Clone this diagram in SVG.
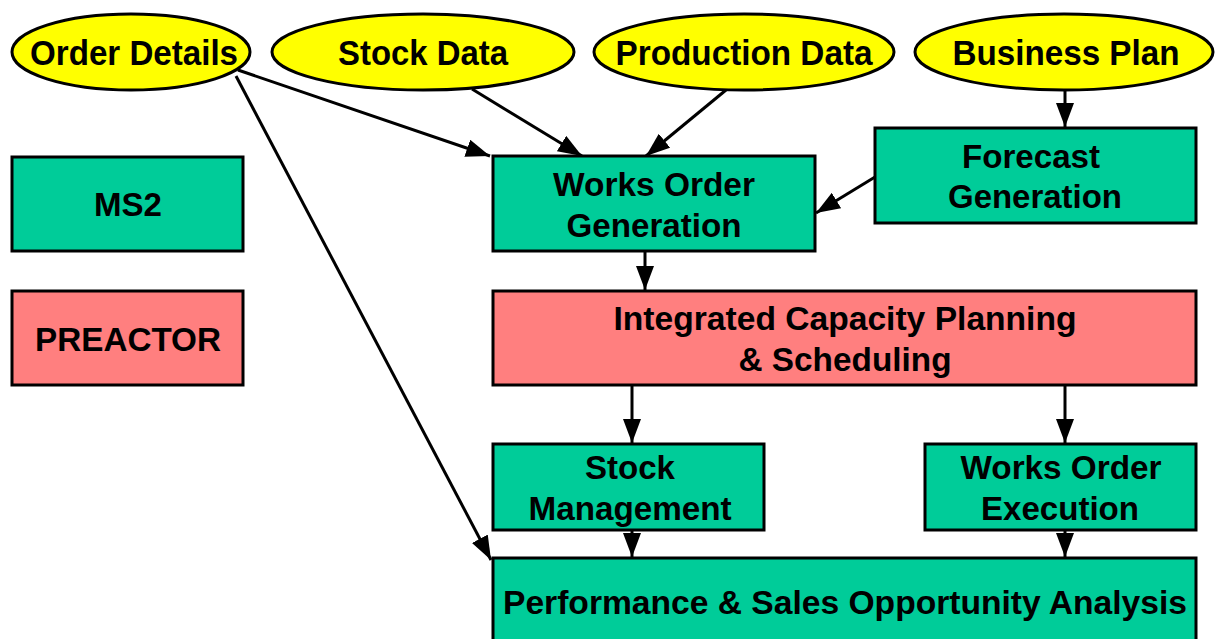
<svg xmlns="http://www.w3.org/2000/svg" width="1217" height="639" viewBox="0 0 1217 639">
<defs>
<marker id="ah" markerWidth="8" markerHeight="6" refX="8" refY="3" orient="auto" markerUnits="strokeWidth">
<path d="M0,0 L8,3 L0,6 Z" fill="#000"/>
</marker>
<style>
.ell{fill:#FFFF00;stroke:#000;stroke-width:3}
.g{fill:#00CC99;stroke:#000;stroke-width:3}
.p{fill:#FF7F7F;stroke:#000;stroke-width:3}
text{font-family:"Liberation Sans",Arial,sans-serif;font-weight:bold;fill:#000;text-anchor:middle}
.t{font-size:33px}
.te{font-size:35px}
.c{fill:none;stroke:#000;stroke-width:3;marker-end:url(#ah)}
</style>
</defs>
<rect width="1217" height="639" fill="#fff"/>
<g id="connectors">
<line class="c" x1="238" y1="70" x2="490" y2="156"/>
<line class="c" x1="236" y1="76" x2="491" y2="560"/>
<line class="c" x1="472" y1="89" x2="582" y2="156"/>
<line class="c" x1="726" y1="90" x2="646" y2="156"/>
<line class="c" x1="1065" y1="91" x2="1065" y2="127"/>
<line class="c" x1="875" y1="177" x2="816" y2="213"/>
<line class="c" x1="645" y1="251" x2="645" y2="290"/>
<line class="c" x1="632" y1="385" x2="632" y2="443"/>
<line class="c" x1="1065" y1="385" x2="1065" y2="443"/>
<line class="c" x1="632" y1="530" x2="632" y2="557"/>
<line class="c" x1="1065" y1="530" x2="1065" y2="557"/>
</g>
<g id="order-details">
<ellipse class="ell" cx="131" cy="52" rx="119" ry="38"/>
<text class="te" x="134" y="65" textLength="208" lengthAdjust="spacingAndGlyphs">Order Details</text>
</g>
<g id="stock-data">
<ellipse class="ell" cx="423" cy="52" rx="151" ry="38"/>
<text class="te" x="423" y="65" textLength="170" lengthAdjust="spacingAndGlyphs">Stock Data</text>
</g>
<g id="production-data">
<ellipse class="ell" cx="744" cy="52" rx="150" ry="38"/>
<text class="te" x="744" y="65" textLength="257" lengthAdjust="spacingAndGlyphs">Production Data</text>
</g>
<g id="business-plan">
<ellipse class="ell" cx="1064" cy="52" rx="149" ry="38"/>
<text class="te" x="1066" y="65" textLength="227" lengthAdjust="spacingAndGlyphs">Business Plan</text>
</g>
<g id="ms2">
<rect class="g" x="12" y="157" width="231" height="94"/>
<text class="t" x="128" y="216" textLength="68" lengthAdjust="spacingAndGlyphs">MS2</text>
</g>
<g id="preactor">
<rect class="p" x="12" y="291" width="231" height="94"/>
<text class="t" x="128" y="351" textLength="186" lengthAdjust="spacingAndGlyphs">PREACTOR</text>
</g>
<g id="works-order-generation">
<rect class="g" x="493" y="156" width="322" height="95"/>
<text class="t" x="654" y="196" textLength="202" lengthAdjust="spacingAndGlyphs">Works Order</text>
<text class="t" x="654" y="237" textLength="175" lengthAdjust="spacingAndGlyphs">Generation</text>
</g>
<g id="forecast-generation">
<rect class="g" x="875" y="128" width="321" height="95"/>
<text class="t" x="1031" y="168" textLength="138" lengthAdjust="spacingAndGlyphs">Forecast</text>
<text class="t" x="1035" y="208" textLength="174" lengthAdjust="spacingAndGlyphs">Generation</text>
</g>
<g id="integrated-capacity-planning">
<rect class="p" x="493" y="291" width="703" height="94"/>
<text class="t" x="845" y="330" textLength="463" lengthAdjust="spacingAndGlyphs">Integrated Capacity Planning</text>
<text class="t" x="845" y="371" textLength="213" lengthAdjust="spacingAndGlyphs">&amp; Scheduling</text>
</g>
<g id="stock-management">
<rect class="g" x="493" y="444" width="271" height="86"/>
<text class="t" x="630" y="479" textLength="90" lengthAdjust="spacingAndGlyphs">Stock</text>
<text class="t" x="630" y="520" textLength="203" lengthAdjust="spacingAndGlyphs">Management</text>
</g>
<g id="works-order-execution">
<rect class="g" x="925" y="444" width="271" height="86"/>
<text class="t" x="1061" y="479" textLength="201" lengthAdjust="spacingAndGlyphs">Works Order</text>
<text class="t" x="1060" y="520" textLength="158" lengthAdjust="spacingAndGlyphs">Execution</text>
</g>
<g id="performance-analysis">
<rect class="g" x="493" y="558" width="703" height="100"/>
<text class="t" x="845" y="614" textLength="684" lengthAdjust="spacingAndGlyphs">Performance &amp; Sales Opportunity Analysis</text>
</g>
</svg>
